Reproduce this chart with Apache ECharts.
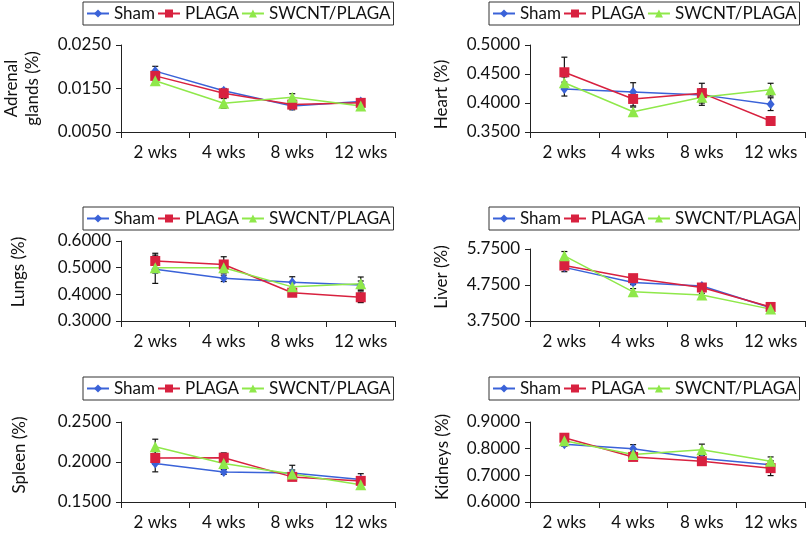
<!DOCTYPE html>
<html>
<head>
<meta charset="utf-8">
<script src="https://cdn.jsdelivr.net/npm/echarts@6/dist/echarts.min.js"></script>
<style>
html,body{margin:0;padding:0;background:#fff;}
#chart{width:807px;height:533px;}
</style>
</head>
<body>
<div id="chart"></div>
<script>
// ---- data ----
const categories = ['2 wks', '4 wks', '8 wks', '12 wks'];
const seriesNames = ['Sham', 'PLAGA', 'SWCNT/PLAGA'];

// each panel: [Sham, PLAGA, SWCNT/PLAGA]
const adrenal = [
  [0.0190, 0.0145, 0.0110, 0.0120],
  [0.0179, 0.0139, 0.0113, 0.0117],
  [0.0168, 0.0116, 0.0130, 0.0110]
];
const adrenalErr = [
  [0.0011, 0.0005, 0.0009, 0.0005],
  [0.0010, 0.0006, 0.0006, 0.0006],
  [0.0007, 0.0011, 0.0008, 0.0006]
];
const heart = [
  [0.424, 0.419, 0.414, 0.398],
  [0.453, 0.407, 0.417, 0.369],
  [0.435, 0.385, 0.410, 0.423]
];
const heartErr = [
  [0.012, 0.016, 0.010, 0.011],
  [0.026, 0.012, 0.017, 0.005],
  [0.010, 0.008, 0.014, 0.011]
];
const lungs = [
  [0.494, 0.460, 0.445, 0.435],
  [0.525, 0.512, 0.406, 0.389],
  [0.500, 0.500, 0.428, 0.440]
];
const lungsErr = [
  [0.053, 0.012, 0.021, 0.015],
  [0.029, 0.029, 0.010, 0.020],
  [0.020, 0.020, 0.015, 0.025]
];
const liver = [
  [5.24, 4.82, 4.72, 4.12],
  [5.29, 4.94, 4.68, 4.14],
  [5.56, 4.56, 4.47, 4.08]
];
const liverErr = [
  [0.12, 0.06, 0.06, 0.05],
  [0.10, 0.06, 0.06, 0.05],
  [0.12, 0.09, 0.05, 0.05]
];
const spleen = [
  [0.1980, 0.1876, 0.1864, 0.1780],
  [0.2050, 0.2054, 0.1814, 0.1764],
  [0.2190, 0.1980, 0.1850, 0.1715]
];
const spleenErr = [
  [0.0103, 0.0030, 0.0095, 0.0074],
  [0.0080, 0.0060, 0.0040, 0.0050],
  [0.0095, 0.0050, 0.0050, 0.0040]
];
const kidneys = [
  [0.817, 0.800, 0.763, 0.740],
  [0.841, 0.769, 0.753, 0.727],
  [0.830, 0.778, 0.796, 0.753]
];
const kidneysErr = [
  [0.008, 0.015, 0.012, 0.010],
  [0.008, 0.010, 0.010, 0.028],
  [0.010, 0.010, 0.021, 0.016]
];

// ---- layout / style ----
const FONT = 'Lato';
const FS = 17;
const colors = ['#3a62d8', '#d8213f', '#8fe84a'];
const symbols = ['diamond', 'rect', 'triangle'];
const symbolSizes = [[8, 10], 10, 11];

const panels = [
  {title: 'Adrenal\nglands (%)', values: adrenal, errs: adrenalErr, min: 0.005, max: 0.025, interval: 0.01, dec: 4,
   grid: {left: 121, top: 45, width: 274, height: 87}, legend: {left: 83, top: 2}, gap: 78, pad: [0, 0, 0, 0]},
  {title: 'Heart (%)', values: heart, errs: heartErr, min: 0.35, max: 0.5, interval: 0.05, dec: 4,
   grid: {left: 530, top: 45, width: 275, height: 87}, legend: {left: 489, top: 2}, gap: 78, pad: [0, 12, 0, 0]},
  {title: 'Lungs (%)', values: lungs, errs: lungsErr, min: 0.3, max: 0.6, interval: 0.1, dec: 4,
   grid: {left: 121, top: 241, width: 274, height: 80}, legend: {left: 83, top: 207}, gap: 92, pad: [0, 0, 0, 18]},
  {title: 'Liver (%)', values: liver, errs: liverErr, min: 3.75, max: 5.75, interval: 1, dec: 4,
   grid: {left: 530, top: 249, width: 275, height: 72}, legend: {left: 489, top: 207}, gap: 78, pad: [0, 0, 0, 16]},
  {title: 'Spleen (%)', values: spleen, errs: spleenErr, min: 0.15, max: 0.25, interval: 0.05, dec: 4,
   grid: {left: 121, top: 422, width: 274, height: 80}, legend: {left: 83, top: 377}, gap: 91, pad: [0, 0, 0, 14]},
  {title: 'Kidneys (%)', values: kidneys, errs: kidneysErr, min: 0.6, max: 0.9, interval: 0.1, dec: 4,
   grid: {left: 530, top: 422, width: 275, height: 80}, legend: {left: 489, top: 377}, gap: 77, pad: [0, 0, 0, 10]}
];

const grids = [], xAxes = [], yAxes = [], legends = [], series = [];

panels.forEach((p, i) => {
  grids.push(Object.assign({containLabel: false}, p.grid));
  xAxes.push({
    type: 'category', gridIndex: i, data: categories, boundaryGap: true,
    axisLine: {lineStyle: {color: '#222', width: 1}},
    axisTick: {show: true, length: 6, interval: 0, lineStyle: {color: '#222'}},
    axisLabel: {color: '#111', fontFamily: FONT, fontSize: FS, margin: 12, interval: 0}
  });
  yAxes.push({
    type: 'value', gridIndex: i, min: p.min, max: p.max, interval: p.interval,
    name: p.title, nameLocation: 'middle', nameGap: p.gap, nameRotate: 90,
    nameTextStyle: {color: '#111', fontFamily: FONT, fontSize: FS, lineHeight: 21, padding: p.pad},
    axisLine: {show: true, lineStyle: {color: '#222', width: 1}},
    axisTick: {show: true, length: 5, lineStyle: {color: '#222'}},
    splitLine: {show: false},
    axisLabel: {color: '#111', fontFamily: FONT, fontSize: FS, margin: 10,
      formatter: v => v.toFixed(p.dec)}
  });
  legends.push({
    left: p.legend.left, top: p.legend.top, width: 330, orient: 'horizontal',
    data: seriesNames.map(n => ({name: n})),
    itemWidth: 22, itemHeight: 10, itemGap: 2,
    padding: [3, 3, 3, 3],
    borderColor: '#333', borderWidth: 1, backgroundColor: '#fff',
    textStyle: {color: '#111', fontFamily: FONT, fontSize: FS},
    selectedMode: false
  });
  // error bars
  p.values.forEach((vals, s) => {
    series.push({
      type: 'custom', name: seriesNames[s] + ' err', xAxisIndex: i, yAxisIndex: i, z: 1,
      silent: true, legendHoverLink: false,
      data: vals.map((v, k) => [k, v - p.errs[s][k], v + p.errs[s][k]]),
      renderItem: (params, api) => {
        const lo = api.coord([api.value(0), api.value(1)]);
        const hi = api.coord([api.value(0), api.value(2)]);
        const c = 3;
        const st = {stroke: '#111', lineWidth: 1.2};
        return {type: 'group', children: [
          {type: 'line', shape: {x1: lo[0], y1: lo[1], x2: hi[0], y2: hi[1]}, style: st},
          {type: 'line', shape: {x1: hi[0] - c, y1: hi[1], x2: hi[0] + c, y2: hi[1]}, style: st},
          {type: 'line', shape: {x1: lo[0] - c, y1: lo[1], x2: lo[0] + c, y2: lo[1]}, style: st}
        ]};
      }
    });
  });
  p.values.forEach((vals, s) => {
    series.push({
      type: 'line', name: seriesNames[s], xAxisIndex: i, yAxisIndex: i, z: 2,
      data: vals, symbol: symbols[s], symbolSize: symbolSizes[s], showSymbol: true,
      color: colors[s],
      lineStyle: {color: colors[s], width: 1.5},
      itemStyle: {color: colors[s]},
      animation: false
    });
  });
});

const chart = echarts.init(document.getElementById('chart'), null, {renderer: 'canvas'});
chart.setOption({
  animation: false,
  backgroundColor: '#fff',
  grid: grids, xAxis: xAxes, yAxis: yAxes, legend: legends, series: series
});
</script>
</body>
</html>
